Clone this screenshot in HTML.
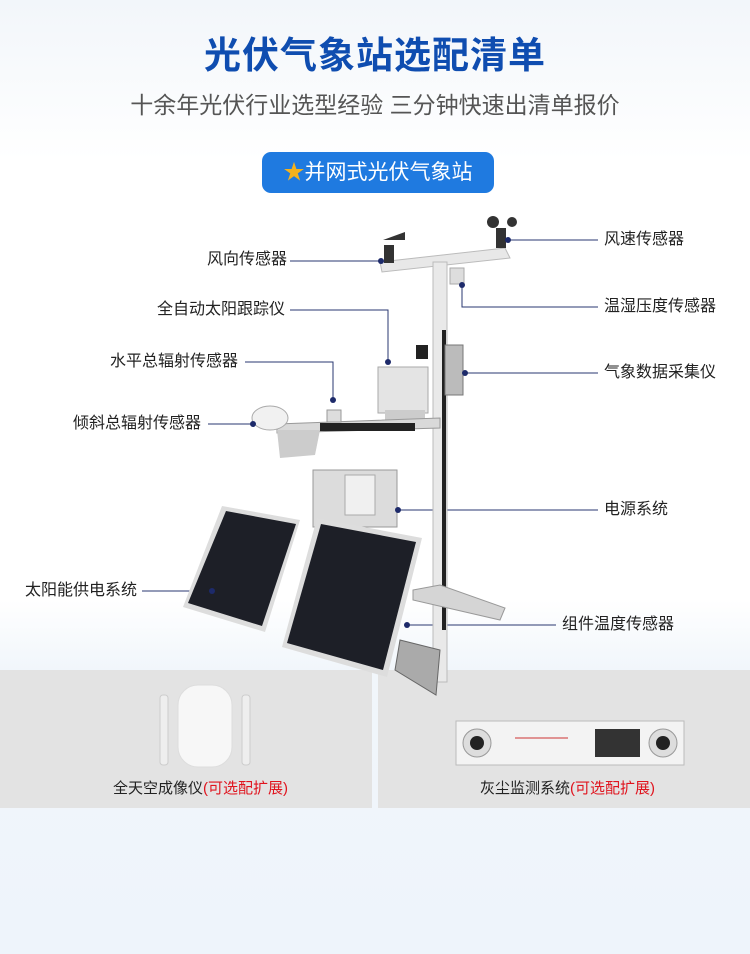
<!DOCTYPE html>
<html><head><meta charset="utf-8"><style>
html,body{margin:0;padding:0}
body{width:750px;height:954px;position:relative;overflow:hidden;background:linear-gradient(#f2f6fa 0,#ffffff 160px,#ffffff 600px,#f1f6fb 670px,#eef4fb 954px);font-family:"Liberation Sans","Noto Sans CJK SC",sans-serif}
.t{position:absolute;white-space:nowrap}
.lb{position:absolute;font-size:16px;color:#222;white-space:nowrap;line-height:18px}
</style></head><body>
<div class="t" style="left:0;width:750px;text-align:center;top:25px;font-size:37px;font-weight:bold;color:#0f4db0;letter-spacing:1px">光伏气象站选配清单</div>
<div class="t" style="left:0;width:750px;text-align:center;top:86px;font-size:23px;color:#555">十余年光伏行业选型经验 三分钟快速出清单报价</div>
<div class="t" style="left:262px;top:152px;width:232px;height:41px;border-radius:9px;background:#1f7ae0;color:#fff;font-size:21px;line-height:41px;text-align:center"><span style="color:#f5b21c">★</span>并网式光伏气象站</div>

<div style="position:absolute;left:0;top:670px;width:372px;height:138px;background:#e3e3e3"></div>
<div style="position:absolute;left:378px;top:670px;width:372px;height:138px;background:#e3e3e3"></div>

<svg width="750" height="954" style="position:absolute;left:0;top:0">
<g fill="none" stroke="#2a3770" stroke-width="1">
<path d="M290 261H380"/><path d="M510 240H598"/><path d="M290 310H388V362"/><path d="M462 285V307H598"/>
<path d="M245 362H333V400"/><path d="M465 373H598"/><path d="M208 424H258"/><path d="M400 510H598"/>
<path d="M142 591H200"/><path d="M407 625H556"/>
</g>
<polygon points="380,262 505,248 510,258 382,272" fill="#e8e8e8" stroke="#bbb"/>
<rect x="433" y="262" width="14" height="420" fill="#e9e9e9" stroke="#bbb"/>
<rect x="442" y="330" width="4" height="300" fill="#222"/>
<rect x="384" y="245" width="10" height="18" fill="#333"/><path d="M383 240l22-8v8z" fill="#333"/>
<rect x="496" y="228" width="10" height="20" fill="#333"/><circle cx="493" cy="222" r="6" fill="#333"/><circle cx="512" cy="222" r="5" fill="#333"/>
<rect x="450" y="268" width="14" height="16" fill="#ddd" stroke="#aaa"/>
<rect x="445" y="345" width="18" height="50" fill="#bbb" stroke="#777"/>
<rect x="378" y="367" width="50" height="46" fill="#e4e4e4" stroke="#aaa"/>
<rect x="416" y="345" width="12" height="14" fill="#222"/>
<rect x="385" y="410" width="40" height="12" fill="#ccc"/>
<polygon points="277,424 440,418 440,428 277,433" fill="#d9d9d9" stroke="#999"/>
<rect x="320" y="423" width="95" height="8" fill="#222"/>
<polygon points="277,430 320,430 315,455 280,458" fill="#ccc"/>
<ellipse cx="270" cy="418" rx="18" ry="12" fill="#f1f1f1" stroke="#aaa"/>
<rect x="327" y="410" width="14" height="12" fill="#ddd" stroke="#999"/>
<rect x="313" y="470" width="84" height="57" fill="#dcdcdc" stroke="#999"/>
<rect x="345" y="475" width="30" height="40" fill="#f0f0f0" stroke="#aaa"/>
<polygon points="413,590 440,585 505,608 500,620 413,600" fill="#d5d5d5" stroke="#999"/>
<polygon points="400,640 440,650 436,695 395,670" fill="#aaa" stroke="#666"/>
<polygon points="222,506 300,520 265,632 183,607" fill="#ddd"/>
<polygon points="226,511 296,524 262,626 188,603" fill="#1d1f27"/>
<polygon points="317,518 422,538 387,677 282,647" fill="#ddd"/>
<polygon points="321,524 416,542 383,670 287,643" fill="#1d1f27"/>
<g fill="#1d2a6a"><circle cx="381" cy="261" r="3"/><circle cx="508" cy="240" r="3"/><circle cx="388" cy="362" r="3"/><circle cx="462" cy="285" r="3"/><circle cx="333" cy="400" r="3"/><circle cx="465" cy="373" r="3"/><circle cx="253" cy="424" r="3"/><circle cx="398" cy="510" r="3"/><circle cx="212" cy="591" r="3"/><circle cx="407" cy="625" r="3"/></g>
<rect x="178" y="685" width="54" height="82" rx="20" fill="#f7f7f7" stroke="#ddd"/>
<rect x="160" y="695" width="8" height="70" rx="3" fill="#eee" stroke="#ccc"/>
<rect x="242" y="695" width="8" height="70" rx="3" fill="#eee" stroke="#ccc"/>
<rect x="456" y="721" width="228" height="44" fill="#f3f3f3" stroke="#bbb"/>
<circle cx="477" cy="743" r="14" fill="#ddd" stroke="#999"/><circle cx="477" cy="743" r="7" fill="#222"/>
<circle cx="663" cy="743" r="14" fill="#ddd" stroke="#999"/><circle cx="663" cy="743" r="7" fill="#222"/>
<rect x="595" y="729" width="45" height="28" fill="#333"/>
<line x1="515" y1="738" x2="568" y2="738" stroke="#c33"/>
</svg>

<div class="lb" style="left:207px;top:251px">风向传感器</div>
<div class="lb" style="left:604px;top:231px">风速传感器</div>
<div class="lb" style="left:157px;top:301px">全自动太阳跟踪仪</div>
<div class="lb" style="left:604px;top:298px">温湿压度传感器</div>
<div class="lb" style="left:110px;top:353px">水平总辐射传感器</div>
<div class="lb" style="left:604px;top:364px">气象数据采集仪</div>
<div class="lb" style="left:73px;top:415px">倾斜总辐射传感器</div>
<div class="lb" style="left:604px;top:501px">电源系统</div>
<div class="lb" style="left:25px;top:582px">太阳能供电系统</div>
<div class="lb" style="left:562px;top:616px">组件温度传感器</div>
<div class="lb" style="left:113px;top:780px;font-size:15px">全天空成像仪<span style="color:#e0141e">(可选配扩展)</span></div>
<div class="lb" style="left:480px;top:780px;font-size:15px">灰尘监测系统<span style="color:#e0141e">(可选配扩展)</span></div>
</body></html>
